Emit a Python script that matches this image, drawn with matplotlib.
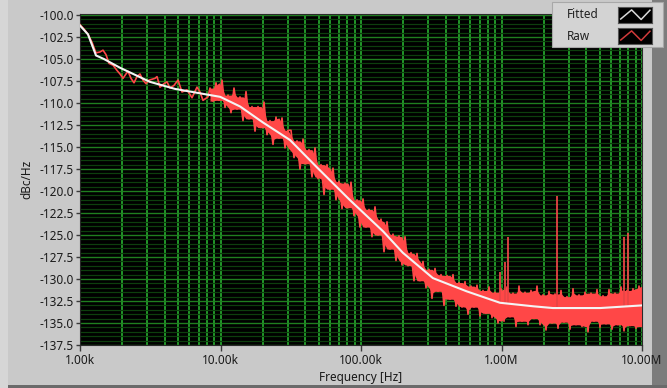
import numpy as np
import matplotlib
matplotlib.use("Agg")
import matplotlib.pyplot as plt
from matplotlib.patches import Rectangle
from matplotlib.ticker import FixedLocator, NullFormatter, FixedFormatter

# ---------------- data ----------------
fit_freq = [1000, 1140, 1300, 1480, 1930, 3150, 4750, 7150, 9950, 13800, 20000,
            31200, 48500, 83000, 144000, 198000, 325000, 565000, 975000,
            1680000, 2320000, 5050000, 10000000]
fit_db = [-101.2, -102.2, -104.6, -105.0, -106.0, -107.6, -108.4, -108.9, -109.3,
          -110.4, -112.2, -114.2, -117.3, -121.0, -124.6, -127.0, -129.9, -131.4,
          -132.7, -133.1, -133.3, -133.3, -133.0]

# raw trace, low-frequency part (individual points visible)
raw_lo_freq = [1000, 1068, 1140, 1217, 1300, 1388, 1458, 1531, 1609, 1718, 1834, 1926,
               2023, 2125, 2196, 2307, 2423, 2545, 2673, 2808, 2950, 3098, 3254, 3419,
               3533, 3710, 3962, 4161, 4371, 4665, 4985, 5321, 5774, 6269, 6803, 7147,
               7507, 8147]
raw_lo_db = [-101.1, -101.6, -102.2, -103.1, -104.3, -104.2, -104.0, -104.5, -105.5,
             -105.7, -106.3, -106.7, -107.2, -106.7, -106.4, -107.2, -107.7, -107.0,
             -106.7, -107.4, -107.8, -107.4, -107.3, -107.2, -107.0, -108.2, -107.8,
             -107.6, -108.3, -108.0, -107.4, -108.75, -108.5, -109.4, -108.2, -108.75,
             -109.7, -109.3]

# raw trace, dense part from 8.42 kHz to 10 MHz (log-spaced measurement points)
raw_hf_db = [
    -108.3, -109.8, -107.7, -109.7, -107.4, -110.5, -109.1, -111.1, -108.3, -110.7,
    -109.3, -112.0, -108.7, -111.8, -110.4, -113.2, -110.4, -112.8, -109.9, -113.6,
    -112.0, -114.7, -111.6, -114.0, -111.7, -115.1, -113.1,
    -113.1, -116.2, -114.3, -117.5, -114.1, -116.9, -115.3, -118.4, -115.1, -118.6,
    -117.0, -120.4, -117.0, -119.8, -117.4, -121.0, -118.9, -122.0, -119.1, -121.9,
    -119.0, -122.8, -121.0, -124.1, -120.9, -124.1, -122.1, -125.2, -121.8, -125.0,
    -123.2, -126.9, -123.5, -126.6, -124.9, -127.9, -125.1, -128.4, -125.2, -128.5,
    -127.0, -130.2, -127.1, -130.2,
    -128.0, -131.0, -128.9, -132.2, -128.8, -131.4, -129.5, -133.0, -129.6, -132.3,
    -129.5, -133.1, -130.4, -133.2, -130.3, -134.0, -130.8, -133.2, -130.7, -134.2,
    -131.3, -133.9, -130.9, -134.4, -131.5, -135.0,
    -131.1, -134.8, -130.9, -134.3, -131.6, -135.4, -130.8, -134.8, -131.5, -135.2,
    -131.3, -134.5, -130.8, -135.2, -131.8, -135.8, -131.4, -135.0, -131.7, -135.6,
    -131.3, -134.9, -132.0, -135.7, -131.1, -135.2, -131.8, -135.4, -131.5, -136.0,
    -131.6, -134.8, -131.2, -135.5, -131.9, -135.1, -131.2, -135.7, -131.6, -135.2,
    -130.9, -135.9, -131.3, -135.3, -131.1, -135.6, -130.8, -135.4]
raw_hf_freq = np.geomspace(8.42e3, 1.0e7, len(raw_hf_db))

# spurs
spur_freq = [976000, 1060000, 1110000, 2480000, 7450000, 7950000]
spur_db = [-129.2, -128.1, -125.2, -120.6, -125.2, -124.8]

x_ticks = [1e3, 1e4, 1e5, 1e6, 1e7]
x_ticklabels = ["1.00k", "10.00k", "100.00k", "1.00M", "10.00M"]
y_ticks = [-137.5, -135.0, -132.5, -130.0, -127.5, -125.0, -122.5, -120.0, -117.5,
           -115.0, -112.5, -110.0, -107.5, -105.0, -102.5, -100.0]

# ---------------- figure ----------------
W, H = 667, 388
plt.rcParams["font.family"] = ["Noto Sans", "DejaVu Sans"]
fig = plt.figure(figsize=(W / 100, H / 100), dpi=100)
fig.patch.set_facecolor("#c9c9c9")

def fx(px):
    return px / W

def fy(py):
    return 1 - py / H

# window chrome: right shadow, bottom edge, light left strip
fig.add_artist(Rectangle((fx(652), 0), fx(667) - fx(652), 1, transform=fig.transFigure,
                         facecolor="#7c7c7c", edgecolor="none", zorder=0))
fig.add_artist(Rectangle((0, 0), 1, fy(385) - fy(388), transform=fig.transFigure,
                         facecolor="#6a6a6a", edgecolor="none", zorder=0))
fig.add_artist(Rectangle((0, 0), fx(8), 1, transform=fig.transFigure,
                         facecolor="#d6d6d6", edgecolor="none", zorder=0))

ax = fig.add_axes([fx(80), fy(345), fx(642) - fx(80), fy(14) - fy(345)])
ax.set_facecolor("black")
ax.set_xscale("log")
ax.set_xlim(1e3, 1e7)
ax.set_ylim(-137.5, -100 + 1 / 8.8)

# grid
ax.set_axisbelow(True)
ax.yaxis.set_major_locator(FixedLocator(y_ticks))
ax.yaxis.set_major_formatter(FixedFormatter([f"{v:.1f}" for v in y_ticks]))
ax.yaxis.set_minor_locator(FixedLocator(np.arange(-137.5, -99.9, 0.5)))
ax.xaxis.set_major_locator(FixedLocator(x_ticks))
ax.xaxis.set_major_formatter(FixedFormatter(x_ticklabels))
minor_x = [m * d for d in [1e3, 1e4, 1e5, 1e6] for m in range(2, 10)]
ax.xaxis.set_minor_locator(FixedLocator(minor_x))
ax.xaxis.set_minor_formatter(NullFormatter())

ax.grid(which="minor", axis="y", color="#0d3f0d", lw=0.9)
ax.grid(which="major", axis="y", color="#1f7f1f", lw=1.0)
ax.grid(which="both", axis="x", color="#22982a", lw=1.4)

ax.tick_params(axis="y", which="major", length=3, width=1, color="#3a3a3a", pad=1.5,
               labelsize=8.5, labelcolor="#1a1a1a")
ax.tick_params(axis="x", which="major", length=4, width=1, color="#3a3a3a", pad=2.5,
               labelsize=8.5, labelcolor="#1a1a1a")
ax.tick_params(which="minor", length=0)
for s in ax.spines.values():
    s.set_color("#2a2a2a")
    s.set_linewidth(0.8)

# raw trace: solid core between neighbouring peaks/troughs, spikes drawn by the line
red = "#ff4747"
rf = np.asarray(raw_hf_freq)
rd = np.asarray(raw_hf_db)
lf = np.log10(rf)
fit_interp = np.interp(lf, np.log10(fit_freq), fit_db)
up = rd >= fit_interp
hi_env = np.interp(lf, lf[up], rd[up])
lo_env = np.interp(lf, lf[~up], rd[~up])
pad_hi = np.pad(hi_env, 1, mode="edge")
pad_lo = np.pad(lo_env, 1, mode="edge")
core_hi = np.min(np.stack([pad_hi[k:k + len(rd)] for k in range(3)]), axis=0)
core_lo = np.max(np.stack([pad_lo[k:k + len(rd)] for k in range(3)]), axis=0)
ax.fill_between(rf, core_lo, core_hi, color=red, lw=0, zorder=2)
ax.plot(raw_lo_freq + list(rf), raw_lo_db + list(rd), color=red, lw=1.2, zorder=3)
spur_base = np.interp(np.log10(spur_freq), np.log10(fit_freq), fit_db)
ax.vlines(spur_freq, spur_base, spur_db, color="#e84545", lw=1.3, zorder=3)

# fitted
ax.plot(fit_freq, fit_db, color="#f4f4f4", lw=1.5, zorder=4)

ax.set_xlabel("Frequency [Hz]", fontsize=8.5, color="#1a1a1a", labelpad=3)
ax.set_ylabel("dBc/Hz", fontsize=8.5, color="#1a1a1a", labelpad=4)

# legend panel
fig.add_artist(Rectangle((fx(552), fy(47)), fx(663) - fx(552), fy(2) - fy(47),
                         transform=fig.transFigure, facecolor="#d3d3d3",
                         edgecolor="#a8a8a8", lw=0.8, zorder=5))
for row, (label, col) in enumerate([("Fitted", "#d8d8d8"), ("Raw", "#d03a3a")]):
    ytop = 7 + row * 21
    fig.text(fx(567), fy(ytop + 8), label, fontsize=8.5, color="#222222",
             ha="left", va="center", zorder=6)
    sw = fig.add_axes([fx(618), fy(ytop + 16), fx(652) - fx(618), fy(ytop) - fy(ytop + 16)])
    sw.set_zorder(10)
    sw.set_facecolor("black")
    sw.set_xlim(0, 1)
    sw.set_ylim(0, 1)
    sw.set_xticks([])
    sw.set_yticks([])
    for s in sw.spines.values():
        s.set_color("#555555")
        s.set_linewidth(0.8)
    sw.plot([0.08, 0.4, 0.68, 0.94], [0.25, 0.82, 0.22, 0.8], color=col, lw=1.1)

fig.savefig("out.png", dpi=100, facecolor=fig.get_facecolor())
